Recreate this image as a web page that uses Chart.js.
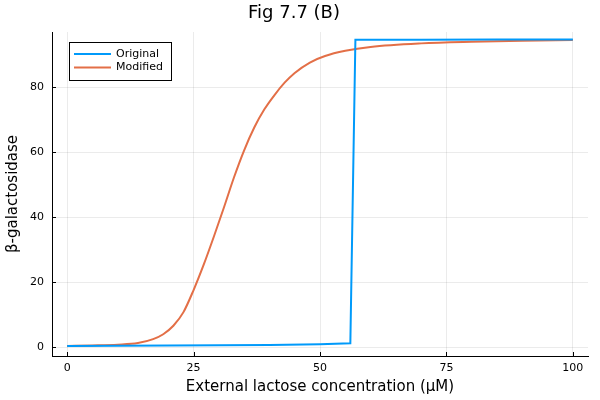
<!DOCTYPE html>
<html>
<head>
<meta charset="utf-8">
<script src="https://cdn.jsdelivr.net/npm/chart.js@4/dist/chart.umd.min.js"></script>
<style>
  html, body { margin: 0; padding: 0; background: #fff; }
  #wrap { width: 600px; height: 400px; }
</style>
</head>
<body>
<div id="wrap"><canvas id="myChart"></canvas></div>
<script>
// values
let origX = [0, 10, 20, 30, 40, 50, 56, 57, 70, 85, 100];
let origY = [0.4, 0.45, 0.5, 0.6, 0.7, 0.9, 1.2, 94.6, 94.6, 94.7, 94.7];

let modX = [0, 5, 10, 14, 17, 19, 21, 23, 25, 27, 29, 31, 33, 35, 37, 39, 41, 43, 45, 48, 51, 55, 60, 70, 80, 90, 100];
let modY = [0.4, 0.55, 0.8, 1.3, 2.5, 4.0, 6.6, 10.8, 17.6, 25.4, 34.0, 43.0, 52.3, 60.6, 67.6, 73.2, 77.6, 81.4, 84.4, 87.6, 89.6, 91.2, 92.4, 93.5, 94.0, 94.3, 94.5];

let xTicks = [0, 25, 50, 75, 100];
let yTicks = [0, 20, 40, 60, 80];

let toPoints = function (xs, ys) {
    return xs.map(function (x, i) { return { x: x, y: ys[i] }; });
}

Chart.defaults.font.family = "'DejaVu Sans', sans-serif";
Chart.defaults.color = '#000';

// short tick marks pointing into the plot
let innerTicks = {
    id: 'innerTicks',
    afterDraw: function (chart) {
        const ctx = chart.ctx;
        const area = chart.chartArea;
        const xs = chart.scales.x, ys = chart.scales.y;
        ctx.save();
        ctx.strokeStyle = '#000';
        ctx.lineWidth = 1;
        ctx.beginPath();
        xTicks.forEach(function (v) {
            let px = Math.round(xs.getPixelForValue(v)) + 0.5;
            ctx.moveTo(px, area.bottom);
            ctx.lineTo(px, area.bottom - 4);
        });
        yTicks.forEach(function (v) {
            let py = Math.round(ys.getPixelForValue(v)) + 0.5;
            ctx.moveTo(area.left, py);
            ctx.lineTo(area.left + 4, py);
        });
        ctx.stroke();
        ctx.restore();
    }
};

// legend box drawn inside the plot, top-left, like the original
let boxLegend = {
    id: 'boxLegend',
    afterDraw: function (chart) {
        const ctx = chart.ctx;
        const x0 = 69, y0 = 42, w = 102, h = 38;
        ctx.save();
        ctx.fillStyle = '#fff';
        ctx.fillRect(x0, y0, w, h);
        ctx.strokeStyle = '#000';
        ctx.lineWidth = 1;
        ctx.strokeRect(x0 + 0.5, y0 + 0.5, w, h);
        ctx.font = "11px 'DejaVu Sans'";
        ctx.textBaseline = 'middle';
        chart.data.datasets.forEach(function (ds, i) {
            let y = y0 + 12 + i * 13.5;
            ctx.strokeStyle = ds.borderColor;
            ctx.lineWidth = 2;
            ctx.beginPath();
            ctx.moveTo(x0 + 5, y);
            ctx.lineTo(x0 + 42, y);
            ctx.stroke();
            ctx.fillStyle = '#000';
            ctx.fillText(ds.label, x0 + 47, y);
        });
        ctx.restore();
    }
};

const ctx = document.getElementById('myChart').getContext('2d');
var myChart = new Chart(ctx, {
    type: 'line',
    data: {
        datasets: [{
            label: 'Original',
            data: toPoints(origX, origY),
            borderColor: 'rgb(0, 154, 250)',
            borderWidth: 2,
            pointRadius: 0,
            tension: 0,
            fill: false
        }, {
            label: 'Modified',
            data: toPoints(modX, modY),
            borderColor: 'rgb(227, 111, 71)',
            borderWidth: 2,
            pointRadius: 0,
            cubicInterpolationMode: 'monotone',
            fill: false
        }]
    },
    options: {
        responsive: true,
        maintainAspectRatio: false,
        animation: false,
        layout: { padding: { left: 0, right: 12, top: 0, bottom: 0 } },
        plugins: {
            legend: { display: false },
            tooltip: { enabled: false },
            title: {
                display: true,
                text: 'Fig 7.7 (B)',
                font: { size: 18, weight: 'normal' },
                color: '#000',
                padding: { top: 3, bottom: 7.4 }
            }
        },
        scales: {
            x: {
                type: 'linear',
                min: -3,
                max: 103,
                afterBuildTicks: function (axis) {
                    axis.ticks = xTicks.map(function (v) { return { value: v }; });
                },
                afterFit: function (axis) { axis.height = 44; },
                grid: { color: 'rgba(0,0,0,0.08)', drawTicks: false },
                border: { display: true, color: '#000', width: 1 },
                ticks: { font: { size: 11 }, padding: 6, maxRotation: 0 },
                title: {
                    display: true,
                    text: 'External lactose concentration (μM)',
                    font: { size: 15 },
                    padding: { top: 0, bottom: 4 }
                }
            },
            y: {
                type: 'linear',
                min: -2.7,
                max: 97.0,
                afterBuildTicks: function (axis) {
                    axis.ticks = yTicks.map(function (v) { return { value: v }; });
                },
                afterFit: function (axis) { axis.width = 52; },
                grid: { color: 'rgba(0,0,0,0.08)', drawTicks: false },
                border: { display: true, color: '#000', width: 1 },
                ticks: { font: { size: 11 }, padding: 8 },
                title: {
                    display: true,
                    text: 'β-galactosidase',
                    font: { size: 15 },
                    padding: { top: 4, bottom: 0 }
                }
            }
        }
    },
    plugins: [innerTicks, boxLegend]
});
</script>
</body>
</html>
